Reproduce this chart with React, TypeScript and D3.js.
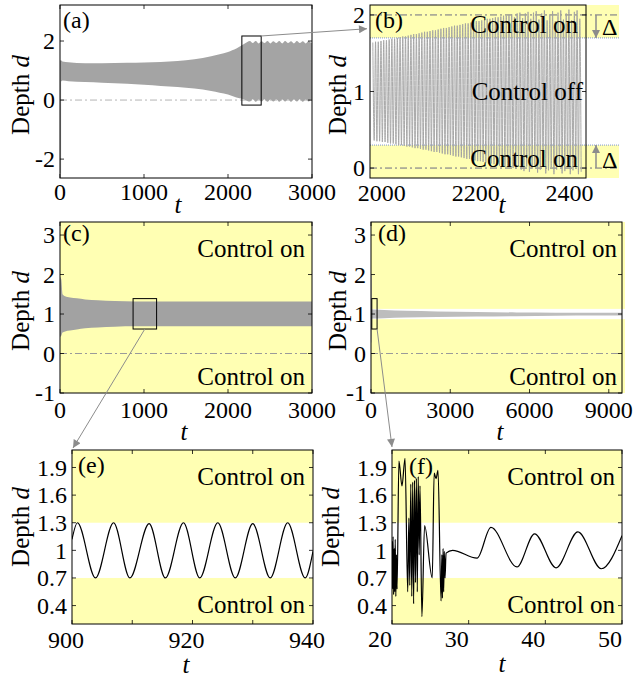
import React from "react";
import * as d3 from "d3";

const SERIF = "'Times New Roman', Tinos, 'Liberation Serif', 'Nimbus Roman', 'Nimbus Roman No9 L', 'Noto Serif', FreeSerif, 'DejaVu Serif', Georgia, serif";
const YELLOW = "#ffffb3";
const ARROW = "#8c8c8c";

// ---------- (a) free response: envelope of the depth signal ----------
const aT = [0, 8, 30, 100, 300, 500, 800, 1000, 1200, 1400, 1600, 1800, 1900, 2000, 2050, 2100, 2150, 2200, 2230, 2260,
  2295, 2330, 2365, 2400, 2435, 2470, 2505, 2540, 2575, 2610, 2645, 2680, 2715, 2750, 2785, 2820, 2855, 2890, 2925, 2960, 2995, 3000];
const aUpper = [1.30, 1.36, 1.31, 1.28, 1.25, 1.25, 1.26, 1.27, 1.29, 1.32, 1.38, 1.48, 1.55, 1.63, 1.69, 1.75, 1.83, 1.92, 1.97, 2.00,
  1.93, 2.00, 1.92, 1.99, 1.93, 2.00, 1.92, 1.99, 1.93, 2.00, 1.92, 2.00, 1.93, 1.99, 1.92, 2.00, 1.93, 1.99, 1.92, 2.00, 1.93, 1.96];
const aLower = [0.62, 0.62, 0.66, 0.64, 0.61, 0.59, 0.55, 0.52, 0.48, 0.44, 0.39, 0.31, 0.25, 0.19, 0.14, 0.09, 0.05, 0.01, -0.03, -0.05,
  0.03, -0.06, 0.02, -0.05, 0.03, -0.06, 0.02, -0.05, 0.03, -0.06, 0.02, -0.05, 0.03, -0.06, 0.02, -0.05, 0.03, -0.06, 0.02, -0.05, 0.03, 0.0];
const aSpike = { t: 4, lo: -2.5, hi: 1.3 };
const aZoomBox = { t0: 2165, t1: 2395, d0: -0.17, d1: 2.17 };
const aXTicks = [0, 1000, 2000, 3000];
const aYTicks = [-2, 0, 2];

// ---------- (b) detail of (a): one peak and one trough per cycle ----------
const B_T0 = 1981;
const B_PERIOD = 5.8;
const bPeaks = [
  1.64, 1.65, 1.65, 1.66, 1.67, 1.67, 1.68, 1.69, 1.69, 1.70,
  1.71, 1.72, 1.72, 1.73, 1.74, 1.75, 1.75, 1.76, 1.77, 1.78,
  1.78, 1.79, 1.80, 1.80, 1.81, 1.82, 1.83, 1.83, 1.84, 1.85,
  1.86, 1.86, 1.87, 1.88, 1.89, 1.89, 1.90, 1.91, 1.92, 1.92,
  1.93, 1.94, 1.95, 1.95, 1.96, 1.97, 1.97, 1.98, 1.99, 1.99,
  2.00, 2.01, 1.97, 2.02, 2.03, 1.96, 2.02, 2.04, 1.95, 2.03,
  2.05, 1.94, 2.02, 2.06, 1.93, 2.01, 2.05, 1.92, 2.03, 2.06,
  1.94, 2.02, 2.07, 1.93, 2.04, 2.06, 1.95];
const bTroughs = [
  0.36, 0.35, 0.35, 0.34, 0.34, 0.33, 0.32, 0.32, 0.31, 0.30,
  0.30, 0.29, 0.28, 0.28, 0.27, 0.26, 0.26, 0.25, 0.24, 0.24,
  0.23, 0.22, 0.21, 0.21, 0.20, 0.19, 0.18, 0.18, 0.17, 0.16,
  0.15, 0.15, 0.14, 0.13, 0.12, 0.12, 0.11, 0.10, 0.09, 0.09,
  0.08, 0.07, 0.06, 0.06, 0.05, 0.04, 0.03, 0.03, 0.02, 0.01,
  0.01, 0.00, -0.01, 0.03, -0.02, -0.04, 0.02, -0.05, -0.01, 0.03,
  -0.06, -0.02, 0.02, -0.07, -0.03, 0.01, -0.08, -0.02, 0.02, -0.07,
  -0.04, 0.01, -0.08, -0.03, 0.02, -0.08, -0.05];
const bBand = { lo: 0.3, hi: 1.7 };
const bRefLines = [0, 2];
const bXTicks = [2000, 2200, 2400];
const bYTicks = [0, 1, 2];

// ---------- (c) controlled, 0 <= t <= 3000 ----------
const cT = [0, 15, 30, 60, 120, 200, 300, 450, 650, 900, 1500, 2000, 2500, 3000];
const cUpper = [1.94, 1.88, 1.50, 1.45, 1.42, 1.40, 1.37, 1.35, 1.33, 1.32, 1.32, 1.32, 1.32, 1.32];
const cLower = [0.42, 0.45, 0.53, 0.56, 0.58, 0.61, 0.64, 0.66, 0.68, 0.69, 0.69, 0.69, 0.69, 0.69];
const cBand = { lo: 0.7, hi: 1.3 };
const cZoomBox = { t0: 870, t1: 1150, d0: 0.62, d1: 1.39 };
const cXTicks = [0, 1000, 2000, 3000];
const cYTicks = [-1, 0, 1, 2, 3];

// ---------- (d) controlled, long run ----------
const dT = [0, 25, 35, 100, 500, 1300, 2500, 4000, 5500, 7000, 8500, 9500];
const dUpper = [2.0, 2.0, 1.12, 1.115, 1.10, 1.08, 1.065, 1.05, 1.04, 1.035, 1.03, 1.03];
const dLower = [0.28, 0.28, 0.88, 0.885, 0.895, 0.91, 0.925, 0.935, 0.945, 0.955, 0.96, 0.965];
const dBand = { lo: 0.87, hi: 1.13 };
const dZoomBox = { t0: 30, t1: 230, d0: 0.62, d1: 1.39 };
const dXTicks = [0, 3000, 6000, 9000];
const dYTicks = [-1, 0, 1, 2, 3];

// ---------- (e) detail of (c): successive extrema ----------
const eT = [900, 900.9, 903.9, 906.9, 909.6, 912.8, 915.5, 918.5, 921.2, 924.2, 927.1, 930.0, 932.9, 935.8, 938.7, 940];
const eD = [1.12, 1.30, 0.70, 1.30, 0.70, 1.29, 0.70, 1.30, 0.70, 1.30, 0.70, 1.29, 0.70, 1.30, 0.70, 0.99];
const eBand = { lo: 0.7, hi: 1.3 };
const eXTicks = [900, 920, 940];
const eXMarks = [900, 910, 920, 930, 940];
const eYTicks = [0.4, 0.7, 1, 1.3, 1.6, 1.9];

// ---------- (f) detail of (d): transient then settling ----------
const fT = [20.00, 20.07, 20.14, 20.21, 20.28, 20.35, 20.42, 20.50, 20.58, 20.66, 20.90, 21.30, 21.70, 22.05, 22.20, 22.32,
  22.45, 22.58, 22.70, 22.82, 22.94, 23.06, 23.18, 23.30, 23.42, 23.55, 23.65, 23.90, 24.25, 25.25, 25.50, 25.75,
  26.00, 26.40, 26.50, 26.58, 26.66, 26.74, 26.82, 26.92, 27.05, 27.9, 31.1, 32.9, 36.3, 38.6, 41.4, 44.25, 47.3, 50.0];
const fD = [1.10, 0.58, 1.15, 0.52, 1.02, 0.55, 1.12, 0.50, 0.95, 0.58, 1.97, 1.70, 2.00, 0.55, 1.35, 0.62,
  1.72, 0.50, 1.74, 0.42, 1.76, 0.65, 1.78, 0.55, 1.80, 0.95, 1.70, 0.28, 1.27, 0.70, 1.84, 1.78,
  1.87, 0.45, 0.95, 0.48, 1.02, 0.55, 0.99, 0.70, 0.97, 1.00, 0.915, 1.25, 0.82, 1.18, 0.81, 1.20, 0.80, 1.16];
const fBand = { lo: 0.7, hi: 1.3 };
const fXTicks = [20, 30, 40, 50];
const fYTicks = [0.4, 0.7, 1, 1.3, 1.6, 1.9];

type Frame = { x0: number; x1: number; y0: number; y1: number };
type Lin = d3.ScaleLinear<number, number>;

const FA: Frame = { x0: 60, x1: 312, y0: 5, y1: 178 };
const FB: Frame = { x0: 370, x1: 586, y0: 5, y1: 178 };
const FC: Frame = { x0: 60, x1: 312, y0: 222, y1: 393 };
const FD: Frame = { x0: 371, x1: 622, y0: 222, y1: 393 };
const FE: Frame = { x0: 72, x1: 313, y0: 450, y1: 624 };
const FF: Frame = { x0: 392, x1: 622, y0: 450, y1: 624 };

const xa = d3.scaleLinear().domain([0, 3000]).range([FA.x0, FA.x1]);
const ya = d3.scaleLinear().domain([-2.64, 3.22]).range([FA.y1, FA.y0]);
const xb = d3.scaleLinear().domain([1975, 2435]).range([FB.x0, FB.x1]);
const yb = d3.scaleLinear().domain([-0.13, 2.13]).range([FB.y1, FB.y0]);
const xc = d3.scaleLinear().domain([0, 3000]).range([FC.x0, FC.x1]);
const yc = d3.scaleLinear().domain([-1.0, 3.33]).range([FC.y1, FC.y0]);
const xd = d3.scaleLinear().domain([0, 9500]).range([FD.x0, FD.x1]);
const yd = d3.scaleLinear().domain([-1.0, 3.33]).range([FD.y1, FD.y0]);
const xe = d3.scaleLinear().domain([900, 940]).range([FE.x0, FE.x1]);
const ye = d3.scaleLinear().domain([0.2, 2.09]).range([FE.y1, FE.y0]);
const xf = d3.scaleLinear().domain([20, 50]).range([FF.x0, FF.x1]);
const yf = d3.scaleLinear().domain([0.2, 2.09]).range([FF.y1, FF.y0]);

function envelope(x: Lin, y: Lin, t: number[], up: number[], lo: number[]) {
  const pts = t.map((v, i) => ({ t: v, u: up[i], l: lo[i] }));
  return d3.area<{ t: number; u: number; l: number }>()
    .x((p) => x(p.t)).y0((p) => y(p.l)).y1((p) => y(p.u))
    .curve(d3.curveMonotoneX)(pts) ?? "";
}

function trace(x: Lin, y: Lin, t: number[], v: number[]) {
  const pts = t.map((tt, i) => [tt, v[i]] as [number, number]);
  return d3.line<[number, number]>().x((p) => x(p[0])).y((p) => y(p[1])).curve(d3.curveMonotoneX)(pts) ?? "";
}

function ClipDef({ id, f }: { id: string; f: Frame }) {
  return (
    <clipPath id={id}>
      <rect x={f.x0} y={f.y0} width={f.x1 - f.x0} height={f.y1 - f.y0} />
    </clipPath>
  );
}

// yellow "control on" areas above hi and below lo, white gap in between
function Bands({ f, y, band, extra = 0 }: { f: Frame; y: Lin; band: { lo: number; hi: number }; extra?: number }) {
  const w = f.x1 - f.x0 + extra;
  return (
    <g>
      <rect x={f.x0} y={f.y0} width={w} height={y(band.hi) - f.y0} fill={YELLOW} />
      <rect x={f.x0} y={y(band.lo)} width={w} height={f.y1 - y(band.lo)} fill={YELLOW} />
    </g>
  );
}

function Axes({ f, x, y, xTicks, xMarks, yTicks, labelDy, labelDx = 0 }: {
  f: Frame; x: Lin; y: Lin; xTicks: number[]; xMarks?: number[]; yTicks: number[]; labelDy: number; labelDx?: number;
}) {
  const tl = 4;
  const marks = xMarks ?? xTicks;
  return (
    <g>
      {marks.map((v) => (
        <g key={`xm${v}`} stroke="#000" strokeWidth={0.8}>
          <line x1={x(v)} x2={x(v)} y1={f.y1} y2={f.y1 - tl} />
          <line x1={x(v)} x2={x(v)} y1={f.y0} y2={f.y0 + tl} />
        </g>
      ))}
      {yTicks.map((v) => (
        <g key={`ym${v}`} stroke="#000" strokeWidth={0.8}>
          <line x1={f.x0} x2={f.x0 + tl} y1={y(v)} y2={y(v)} />
          <line x1={f.x1} x2={f.x1 - tl} y1={y(v)} y2={y(v)} />
        </g>
      ))}
      <rect x={f.x0} y={f.y0} width={f.x1 - f.x0} height={f.y1 - f.y0} fill="none" stroke="#000" strokeWidth={1} />
      {xTicks.map((v) => (
        <text key={`xl${v}`} x={x(v) + labelDx} y={f.y1 + labelDy} textAnchor="middle" fontSize={24}>{v}</text>
      ))}
      {yTicks.map((v) => (
        <text key={`yl${v}`} x={f.x0 - 5} y={y(v)} dy="0.34em" textAnchor="end" fontSize={24}>{v}</text>
      ))}
    </g>
  );
}

function DepthLabel({ x, y }: { x: number; y: number }) {
  return (
    <text transform={`translate(${x},${y}) rotate(-90)`} textAnchor="middle" fontSize={25}>
      Depth <tspan fontStyle="italic">d</tspan>
    </text>
  );
}

function TLabel({ x, y }: { x: number; y: number }) {
  return <text x={x} y={y} textAnchor="middle" fontSize={25} fontStyle="italic">t</text>;
}

function RefLine({ f, y, v, color, extra = 0 }: { f: Frame; y: Lin; v: number; color: string; extra?: number }) {
  return <line x1={f.x0} x2={f.x1 + extra} y1={y(v)} y2={y(v)} stroke={color} strokeWidth={1} strokeDasharray="7 3 2 3" />;
}

function ZoomBox({ x, y, b }: { x: Lin; y: Lin; b: { t0: number; t1: number; d0: number; d1: number } }) {
  return <rect x={x(b.t0)} y={y(b.d1)} width={x(b.t1) - x(b.t0)} height={y(b.d0) - y(b.d1)} fill="none" stroke="#000" strokeWidth={1} />;
}

export default function App() {
  const bPts: number[] = [];
  const bTs: number[] = [];
  bPeaks.forEach((p, k) => {
    bTs.push(B_T0 + k * B_PERIOD, B_T0 + (k + 0.5) * B_PERIOD);
    bPts.push(p, bTroughs[k]);
  });

  return (
    <svg width={634} height={677} viewBox="0 0 634 677"
      style={{ position: "absolute", left: 0, top: 0, background: "#fff" }}>
      <defs>
        <ClipDef id="clipA" f={FA} />
        <ClipDef id="clipB" f={FB} />
        <ClipDef id="clipC" f={FC} />
        <ClipDef id="clipD" f={FD} />
        <ClipDef id="clipE" f={FE} />
        <ClipDef id="clipF" f={FF} />
        <marker id="head" viewBox="0 0 10 10" refX={10} refY={5} markerWidth={11} markerHeight={8}
          markerUnits="userSpaceOnUse" orient="auto">
          <path d="M0,0 L10,5 L0,10 z" fill={ARROW} />
        </marker>
      </defs>

      <g fontFamily={SERIF}>
      {/* (a) */}
      <RefLine f={FA} y={ya} v={0} color="#b4b4b4" />
      <g clipPath="url(#clipA)">
        <path d={envelope(xa, ya, aT, aUpper, aLower)} fill="#a4a4a4" />
        <line x1={xa(aSpike.t)} x2={xa(aSpike.t)} y1={ya(aSpike.lo)} y2={ya(aSpike.hi)} stroke="#a4a4a4" strokeWidth={1.5} />
      </g>
      <ZoomBox x={xa} y={ya} b={aZoomBox} />
      <Axes f={FA} x={xa} y={ya} xTicks={aXTicks} yTicks={aYTicks} labelDy={22} />
      <text x={63} y={28} fontSize={24}>(a)</text>
      <DepthLabel x={29} y={95} />
      <TLabel x={178} y={213} />

      {/* (b) */}
      <Bands f={FB} y={yb} band={bBand} extra={33} />
      {bRefLines.map((v) => <RefLine key={v} f={FB} y={yb} v={v} color="#6e6e82" extra={33} />)}
      {[bBand.lo, bBand.hi].map((v) => (
        <line key={v} x1={FB.x0} x2={FB.x1 + 33} y1={yb(v)} y2={yb(v)} stroke="#7f95cf" strokeWidth={1} strokeDasharray="1 1" />
      ))}
      <g clipPath="url(#clipB)">
        <path d={trace(xb, yb, bTs, bPts)} fill="none" stroke="#a0a0a0" strokeWidth={0.9} />
      </g>
      <Axes f={FB} x={xb} y={yb} xTicks={bXTicks} xMarks={[]} yTicks={bYTicks} labelDy={23} />
      <line x1={FB.x1 + 10} x2={FB.x1 + 10} y1={yb(2)} y2={yb(bBand.hi)} stroke={ARROW} strokeWidth={1.5} markerEnd="url(#head)" />
      <line x1={FB.x1 + 10} x2={FB.x1 + 10} y1={yb(0)} y2={yb(bBand.lo)} stroke={ARROW} strokeWidth={1.5} markerEnd="url(#head)" />
      <text x={602} y={35} fontSize={24}>Δ</text>
      <text x={602} y={168} fontSize={24}>Δ</text>
      <text x={375} y={28} fontSize={24}>(b)</text>
      <text x={578} y={33} textAnchor="end" fontSize={25}>Control on</text>
      <text x={583} y={100} textAnchor="end" fontSize={25}>Control off</text>
      <text x={578} y={167} textAnchor="end" fontSize={25}>Control on</text>
      <DepthLabel x={346} y={95} />
      <TLabel x={502} y={213} />

      {/* (c) */}
      <Bands f={FC} y={yc} band={cBand} />
      <RefLine f={FC} y={yc} v={0} color="#9a9a9a" />
      <g clipPath="url(#clipC)">
        <path d={envelope(xc, yc, cT, cUpper, cLower)} fill="#a2a2a2" />
      </g>
      <ZoomBox x={xc} y={yc} b={cZoomBox} />
      <Axes f={FC} x={xc} y={yc} xTicks={cXTicks} yTicks={cYTicks} labelDy={25} />
      <text x={63} y={241} fontSize={24}>(c)</text>
      <text x={305} y={257} textAnchor="end" fontSize={25}>Control on</text>
      <text x={305} y={385} textAnchor="end" fontSize={25}>Control on</text>
      <DepthLabel x={29} y={311} />
      <TLabel x={184} y={440} />

      {/* (d) */}
      <Bands f={FD} y={yd} band={dBand} extra={3} />
      <RefLine f={FD} y={yd} v={0} color="#9a9a9a" />
      <g clipPath="url(#clipD)">
        <path d={envelope(xd, yd, dT, dUpper, dLower)} fill="#bdbdbd" />
      </g>
      <ZoomBox x={xd} y={yd} b={dZoomBox} />
      <Axes f={FD} x={xd} y={yd} xTicks={dXTicks} yTicks={dYTicks} labelDy={25} />
      <text x={378} y={241} fontSize={24}>(d)</text>
      <text x={617} y={257} textAnchor="end" fontSize={25}>Control on</text>
      <text x={617} y={385} textAnchor="end" fontSize={25}>Control on</text>
      <DepthLabel x={346} y={311} />
      <TLabel x={500} y={440} />

      {/* (e) */}
      <Bands f={FE} y={ye} band={eBand} />
      <g clipPath="url(#clipE)">
        <path d={trace(xe, ye, eT, eD)} fill="none" stroke="#000" strokeWidth={1.2} />
      </g>
      <Axes f={FE} x={xe} y={ye} xTicks={eXTicks} xMarks={eXMarks} yTicks={eYTicks} labelDy={24} labelDx={-6} />
      <text x={78} y={473} fontSize={24}>(e)</text>
      <text x={305} y={485} textAnchor="end" fontSize={25}>Control on</text>
      <text x={305} y={613} textAnchor="end" fontSize={25}>Control on</text>
      <DepthLabel x={29} y={527} />
      <TLabel x={186} y={673} />

      {/* (f) */}
      <Bands f={FF} y={yf} band={fBand} />
      <g clipPath="url(#clipF)">
        <path d={trace(xf, yf, fT, fD)} fill="none" stroke="#000" strokeWidth={1.2} />
      </g>
      <Axes f={FF} x={xf} y={yf} xTicks={fXTicks} yTicks={fYTicks} labelDy={23} labelDx={-12} />
      <text x={409} y={474} fontSize={24}>(f)</text>
      <text x={615} y={485} textAnchor="end" fontSize={25}>Control on</text>
      <text x={615} y={613} textAnchor="end" fontSize={25}>Control on</text>
      <DepthLabel x={339} y={527} />
      <TLabel x={502} y={672} />
      </g>

      {/* zoom connectors */}
      <line x1={xa(aZoomBox.t1)} y1={ya(aZoomBox.d1)} x2={FB.x0 - 3} y2={yb(1.82)} stroke={ARROW} strokeWidth={1} markerEnd="url(#head)" />
      <line x1={xc((cZoomBox.t0 + cZoomBox.t1) / 2)} y1={yc(cZoomBox.d0)} x2={FE.x0 + 1} y2={FE.y0 - 2} stroke={ARROW} strokeWidth={1} markerEnd="url(#head)" />
      <line x1={xd(dZoomBox.t1)} y1={yd(dZoomBox.d0)} x2={FF.x0} y2={FF.y0 - 3} stroke={ARROW} strokeWidth={1} markerEnd="url(#head)" />
    </svg>
  );
}
